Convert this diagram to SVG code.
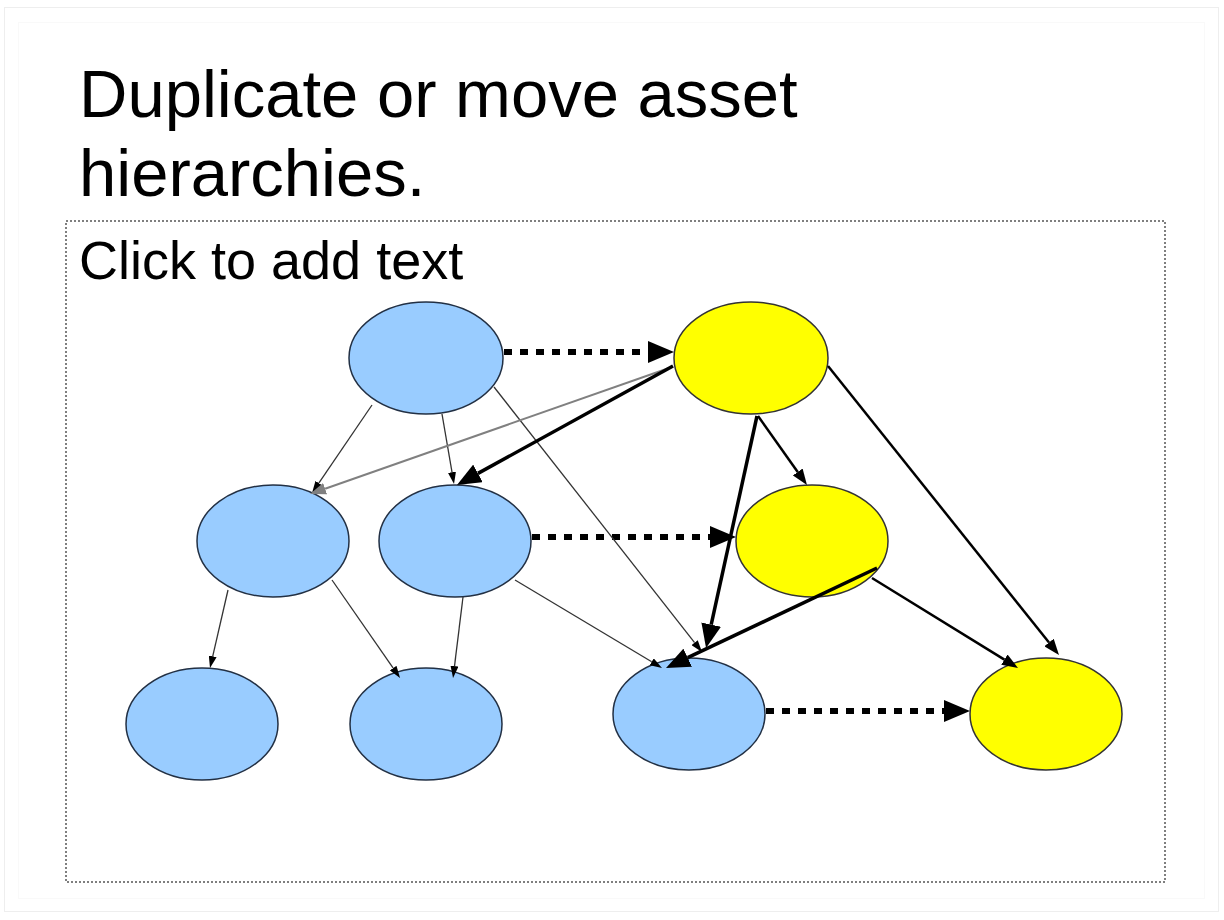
<svg xmlns="http://www.w3.org/2000/svg" width="1224" height="920" viewBox="0 0 1224 920">
<style>
.t{font-family:"Liberation Sans",Arial,sans-serif;fill:#000}
.blue{fill:#99CCFF;stroke:#223044;stroke-width:1.5}
.yel{fill:#FFFF00;stroke:#333;stroke-width:1.5}
.dot{stroke:#000;stroke-width:6;stroke-dasharray:8 8;fill:none}
.thick{stroke:#000;stroke-width:3.5;fill:none}
.med{stroke:#000;stroke-width:2.5;fill:none}
.thin{stroke:#333;stroke-width:1.3;fill:none}
.gray{stroke:#808080;stroke-width:2;fill:none}
</style>
<defs>
<marker id="hBig" viewBox="0 0 26 22" refX="0" refY="11" markerWidth="26" markerHeight="22" markerUnits="userSpaceOnUse" orient="auto"><path d="M0,0 L26,11 L0,22 z" fill="#000"/></marker>
<marker id="hThick" viewBox="0 0 24 20" refX="0" refY="10" markerWidth="24" markerHeight="20" markerUnits="userSpaceOnUse" orient="auto"><path d="M0,0 L24,10 L0,20 z" fill="#000"/></marker>
<marker id="hMed" viewBox="0 0 16 12" refX="0" refY="6" markerWidth="16" markerHeight="12" markerUnits="userSpaceOnUse" orient="auto"><path d="M0,0 L16,6 L0,12 z" fill="#000"/></marker>
<marker id="hThin" viewBox="0 0 12 8" refX="0" refY="4" markerWidth="12" markerHeight="8" markerUnits="userSpaceOnUse" orient="auto"><path d="M0,0 L12,4 L0,8 z" fill="#000"/></marker>
<marker id="hGray" viewBox="0 0 16 12" refX="0" refY="6" markerWidth="16" markerHeight="12" markerUnits="userSpaceOnUse" orient="auto"><path d="M0,0 L16,6 L0,12 z" fill="#808080"/></marker>
</defs>
<rect x="0" y="0" width="1224" height="920" fill="#fff"/>
<rect x="4.5" y="7.5" width="1214" height="904" fill="none" stroke="#eeeeee" stroke-width="1"/>
<rect x="18.5" y="22.5" width="1186" height="876" fill="none" stroke="#f9f9f9" stroke-width="1"/>
<text class="t" x="79" y="117" font-size="67">Duplicate or move asset</text>
<text class="t" x="79" y="196" font-size="67">hierarchies.</text>
<rect x="66" y="221" width="1099" height="661" fill="none" stroke="#555" stroke-width="1.5" stroke-dasharray="2 2"/>
<text class="t" x="79" y="279" font-size="54">Click to add text</text>
<g id="nodes">
<g id="nA"><ellipse class="blue" cx="426" cy="358" rx="77" ry="56"/></g>
<g id="nY1"><ellipse class="yel" cx="751" cy="358" rx="77" ry="56"/></g>
<g id="nB"><ellipse class="blue" cx="273" cy="541" rx="76" ry="56"/></g>
<g id="nC"><ellipse class="blue" cx="455" cy="541" rx="76" ry="56"/></g>
<g id="nY2"><ellipse class="yel" cx="812" cy="541" rx="76" ry="56"/></g>
<g id="nD"><ellipse class="blue" cx="202" cy="724" rx="76" ry="56"/></g>
<g id="nE"><ellipse class="blue" cx="426" cy="724" rx="76" ry="56"/></g>
<g id="nF"><ellipse class="blue" cx="689" cy="714" rx="76" ry="56"/></g>
<g id="nY3"><ellipse class="yel" cx="1046" cy="714" rx="76" ry="56"/></g>
</g>
<g id="connectors">
<path class="dot" d="M504,352 L648,352" marker-end="url(#hBig)"/>
<path class="dot" d="M532,537 L710,537" marker-end="url(#hBig)"/>
<path class="dot" d="M766,711 L944,711" marker-end="url(#hBig)"/>
<path class="thin" d="M372,405 L318.8,483.1" marker-end="url(#hThin)"/>
<path class="thin" d="M442,414 L452,472.2" marker-end="url(#hThin)"/>
<path class="thin" d="M494,387 L694.6,642.6" marker-end="url(#hThin)"/>
<path class="thin" d="M515,580 L651.7,661.8" marker-end="url(#hThin)"/>
<path class="thin" d="M228,590 L212.7,656.3" marker-end="url(#hThin)"/>
<path class="thin" d="M332,580 L393.2,668.1" marker-end="url(#hThin)"/>
<path class="thin" d="M463,597 L454.5,666.1" marker-end="url(#hThin)"/>
<path class="gray" d="M672,367 L325.1,488.7" marker-end="url(#hGray)"/>
<path class="thick" d="M673,366 L478.0,473.4" marker-end="url(#hThick)"/>
<path class="thick" d="M757,416 L711.2,624.6" marker-end="url(#hThick)"/>
<path class="thick" d="M877,568 L687.7,657.7" marker-end="url(#hThick)"/>
<path class="med" d="M758,416 L797.7,472" marker-end="url(#hMed)"/>
<path class="med" d="M872,578 L1004.4,659.6" marker-end="url(#hMed)"/>
<path class="med" d="M828,366 L1049,642.5" marker-end="url(#hMed)"/>
</g>
</svg>
